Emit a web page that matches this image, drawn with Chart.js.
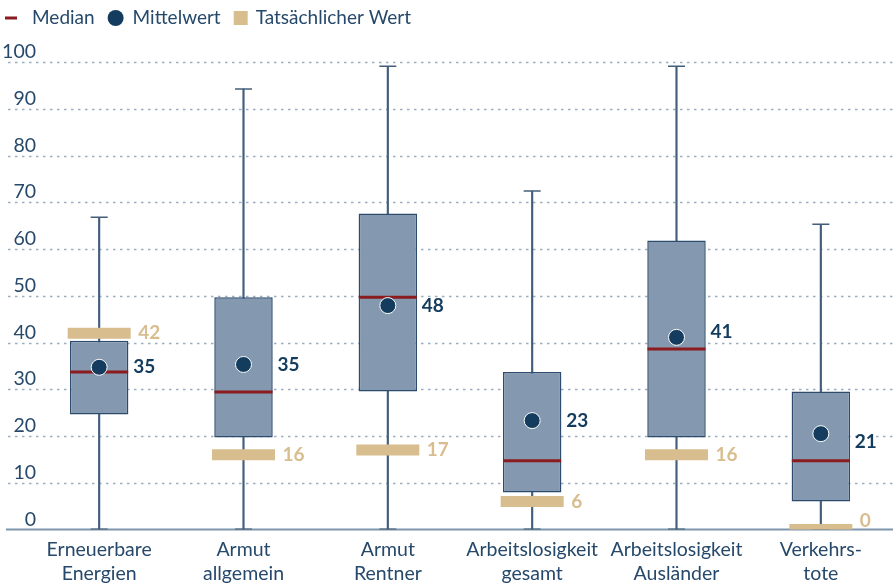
<!DOCTYPE html>
<html lang="de">
<head>
<meta charset="utf-8">
<title>Boxplot</title>
<script src="https://cdn.jsdelivr.net/npm/chart.js@4.4.1/dist/chart.umd.min.js"></script>
<style>
	html, body { margin: 0; padding: 0; background: #fff; overflow: hidden; }
	canvas { display: block; }
</style>
</head>
<body>
<canvas id="box-canvas" width="893" height="585"></canvas>
<script>
// data

const categories = [
	["Erneuerbare", "Energien"],
	["Armut", "allgemein"],
	["Armut", "Rentner"],
	["Arbeitslosigkeit", "gesamt"],
	["Arbeitslosigkeit", "Ausländer"],
	["Verkehrs-", "tote"],
]
const whiskerLow = [0, 0, 0, 0, 0, 0]
const whiskerHigh = [66.8, 94.2, 99.1, 72.4, 99.1, 65.3]
const quartile1 = [24.6, 19.7, 29.5, 7.9, 19.7, 6.0]
const quartile3 = [40.4, 49.7, 67.6, 33.7, 61.8, 29.5]
const medians = [33.7, 29.4, 49.7, 14.7, 38.6, 14.7]
const means = [34.7, 35.3, 47.9, 23.3, 41.1, 20.5]
const actualValues = [42, 16, 17, 6, 16, 0]
const yTicks = [0, 10, 20, 30, 40, 50, 60, 70, 80, 90, 100]
const legendLabels = ["Median", "Mittelwert", "Tatsächlicher Wert"]

// colors

const navy = "#133c5e"
const textBlue = "#26496b"
const boxFill = "#8499b0"
const boxLine = "#2d4b6c"
const whiskerColor = "#435e7b"
const medianRed = "#8a1b1e"
const tan = "#d8bd8f"
const fontFamily = "Lato, 'Noto Sans', sans-serif"

// small vertical nudges of the mean labels (px), as in the original
const meanLabelNudge = [0, 0, 0, 0, -5, 8]

// overlay plugin: grid, y labels, axis line, value labels, legend

const overlay = {
	id: "overlay",
	beforeDatasetsDraw(chart) {
		const { ctx, chartArea, scales } = chart
		const y = scales.y
		ctx.save()
		ctx.strokeStyle = "#9aaec3"
		ctx.lineWidth = 1.5
		ctx.setLineDash([2.5, 4.5])
		yTicks.forEach(v => {
			if (v === 0) return
			const py = Math.round(y.getPixelForValue(v)) + 0.5
			ctx.beginPath()
			ctx.moveTo(8, py)
			ctx.lineTo(chartArea.right, py)
			ctx.stroke()
		})
		ctx.setLineDash([])
		ctx.fillStyle = textBlue
		ctx.font = `19.5px ${fontFamily}`
		ctx.textAlign = "right"
		ctx.textBaseline = "alphabetic"
		yTicks.forEach(v => {
			ctx.fillText(String(v), 36, y.getPixelForValue(v) - 4)
		})
		// x axis line
		ctx.strokeStyle = "#7f95ab"
		ctx.lineWidth = 2
		ctx.beginPath()
		ctx.moveTo(6, chartArea.bottom)
		ctx.lineTo(chartArea.right, chartArea.bottom)
		ctx.stroke()
		ctx.restore()
	},
	afterDatasetsDraw(chart) {
		const { ctx, chartArea, scales } = chart
		const x = scales.x
		const y = scales.y
		ctx.save()
		ctx.textAlign = "left"
		ctx.textBaseline = "middle"
		ctx.font = `bold 19px ${fontFamily}`
		means.forEach((m, i) => {
			ctx.fillStyle = navy
			ctx.fillText(String(Math.round(m)), x.getPixelForValue(i) + 34, y.getPixelForValue(m) + meanLabelNudge[i])
		})
		actualValues.forEach((a, i) => {
			ctx.fillStyle = tan
			const py = Math.min(y.getPixelForValue(a), chartArea.bottom - 9)
			ctx.fillText(String(a), x.getPixelForValue(i) + 39, py)
		})

		// legend
		const ly = 18
		ctx.font = `19px ${fontFamily}`
		ctx.fillStyle = textBlue
		let lx = 5
		ctx.strokeStyle = medianRed
		ctx.lineWidth = 3
		ctx.beginPath()
		ctx.moveTo(lx, ly)
		ctx.lineTo(lx + 12, ly)
		ctx.stroke()
		lx = 32
		ctx.fillText(legendLabels[0], lx, ly)
		lx += ctx.measureText(legendLabels[0]).width + 13
		ctx.fillStyle = navy
		ctx.beginPath()
		ctx.arc(lx + 8, ly, 8, 0, Math.PI * 2)
		ctx.fill()
		lx += 25
		ctx.fillStyle = textBlue
		ctx.fillText(legendLabels[1], lx, ly)
		lx += ctx.measureText(legendLabels[1]).width + 13
		ctx.fillStyle = tan
		ctx.fillRect(lx, ly - 7, 14, 14)
		lx += 22
		ctx.fillStyle = textBlue
		ctx.fillText(legendLabels[2], lx, ly)
		ctx.restore()
	},
}

// chart

const config = {
	type: "bar",
	data: {
		labels: categories,
		datasets: [
			{
				label: "Whisker",
				data: whiskerLow.map((lo, i) => [lo, whiskerHigh[i]]),
				backgroundColor: whiskerColor,
				barThickness: 1.5,
				grouped: false,
				order: 7,
			},
			{
				label: "Box",
				data: quartile1.map((q, i) => [q, quartile3[i]]),
				backgroundColor: boxFill,
				borderColor: boxLine,
				borderWidth: 1.5,
				borderSkipped: false,
				barPercentage: 0.405,
				categoryPercentage: 1,
				grouped: false,
				order: 5,
			},
			{
				type: "line",
				label: "Cap top",
				data: whiskerHigh,
				showLine: false,
				pointStyle: "line",
				pointRadius: 8.5,
				pointBorderWidth: 1.5,
				pointBorderColor: whiskerColor,
				order: 6,
			},
			{
				type: "line",
				label: "Cap bottom",
				data: whiskerLow,
				showLine: false,
				pointStyle: "line",
				pointRadius: 8.5,
				pointBorderWidth: 2,
				pointBorderColor: whiskerColor,
				order: 6,
			},
			{
				type: "line",
				label: legendLabels[2],
				data: actualValues,
				showLine: false,
				pointStyle: "line",
				pointRadius: 31.5,
				pointBorderWidth: 11,
				pointBorderColor: tan,
				clip: 0,
				order: 4,
			},
			{
				type: "line",
				label: legendLabels[0],
				data: medians,
				showLine: false,
				pointStyle: "line",
				pointRadius: 29,
				pointBorderWidth: 3,
				pointBorderColor: medianRed,
				order: 3,
			},
			{
				type: "line",
				label: legendLabels[1],
				data: means,
				showLine: false,
				pointStyle: "circle",
				pointRadius: 8,
				pointBackgroundColor: navy,
				pointBorderColor: "#ffffff",
				pointBorderWidth: 1,
				order: 2,
			},
		],
	},
	options: {
		responsive: false,
		animation: false,
		events: [],
		layout: {
			autoPadding: false,
			padding: { left: 27, right: 0, top: 62, bottom: -8.5 },
		},
		plugins: {
			legend: { display: false },
			tooltip: { enabled: false },
		},
		scales: {
			x: {
				grid: { display: false, drawTicks: false },
				border: { display: false },
				ticks: {
					color: textBlue,
					font: { family: fontFamily, size: 19.5, lineHeight: "24px" },
					padding: 8,
					maxRotation: 0,
					autoSkip: false,
				},
			},
			y: {
				display: false,
				min: 0,
				max: 100,
			},
		},
	},
	plugins: [overlay],
}

new Chart(document.querySelector("#box-canvas"), config)
</script>
</body>
</html>
